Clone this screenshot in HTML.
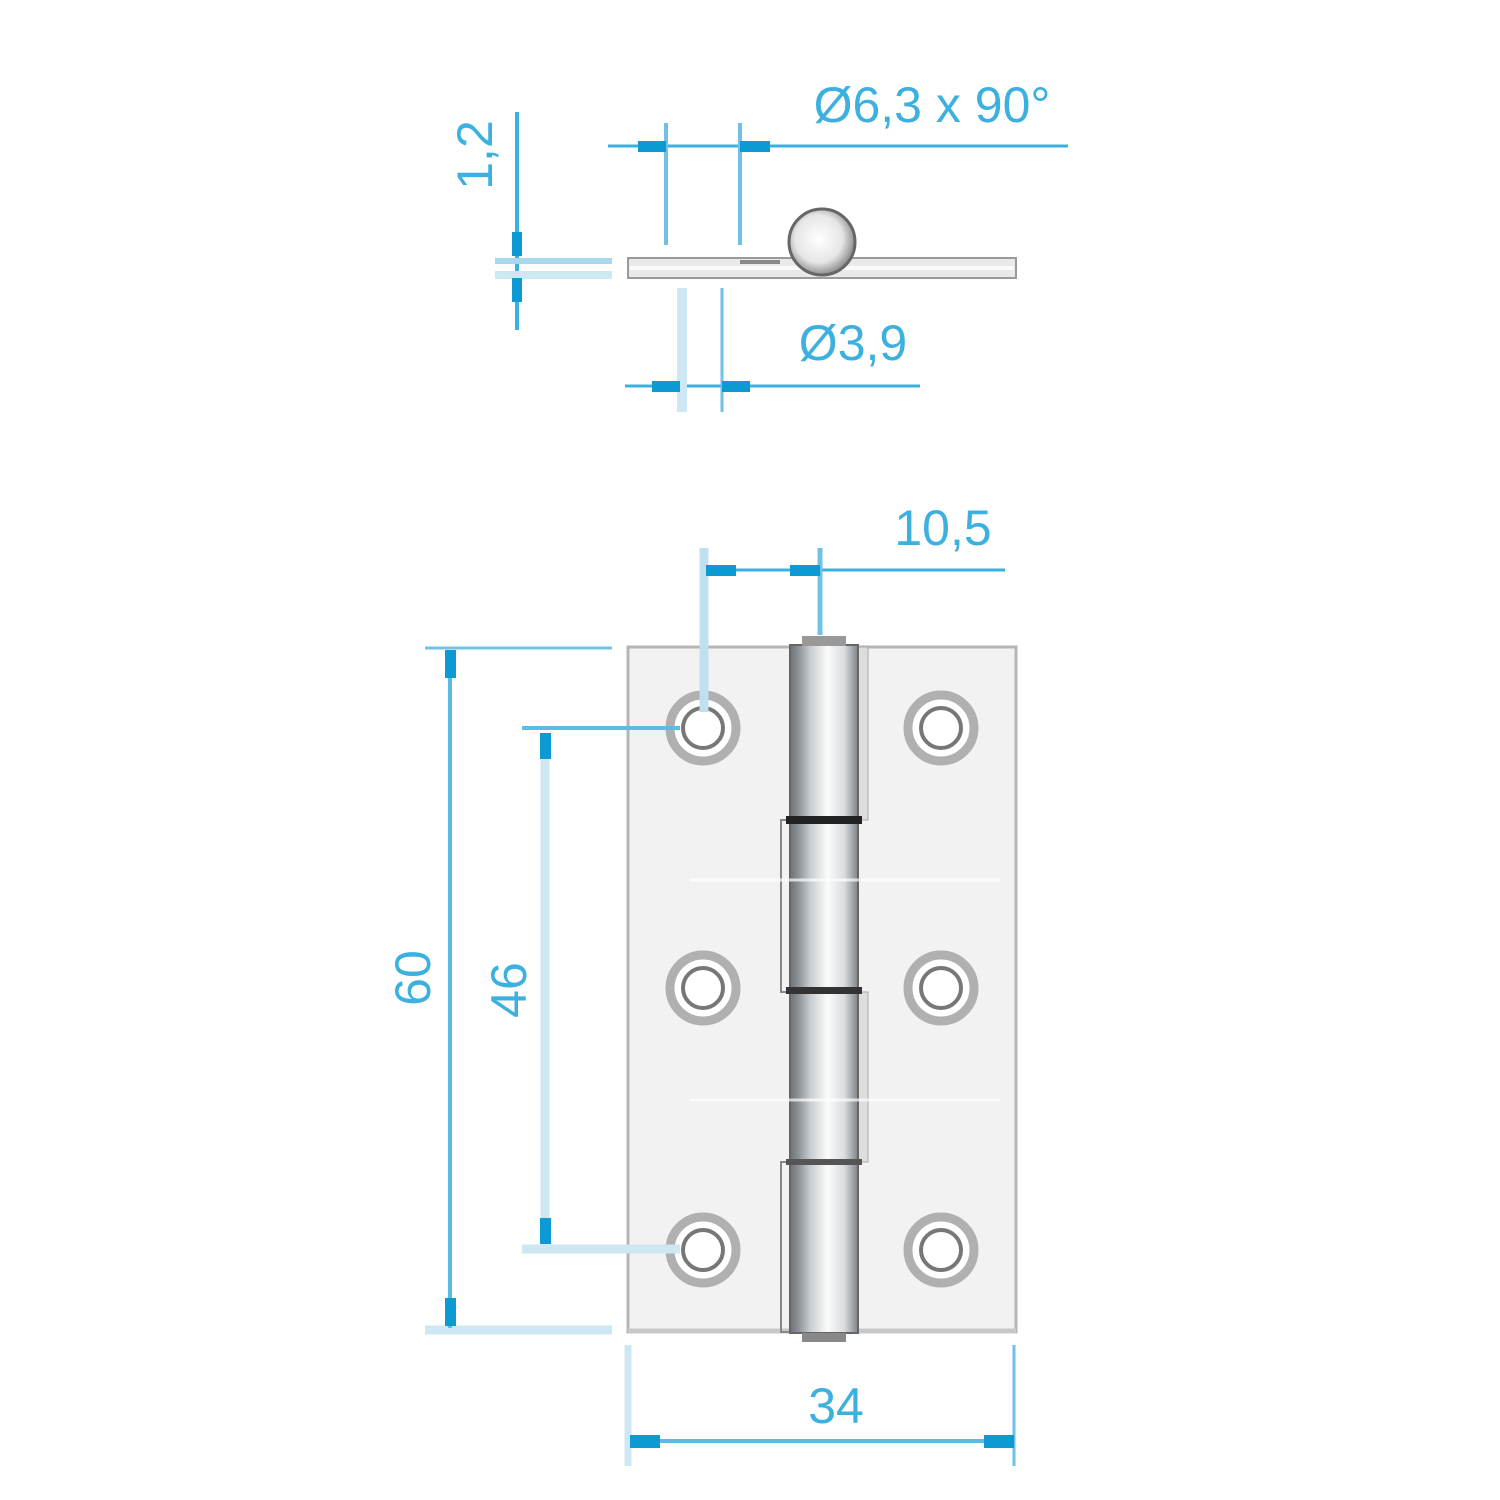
<!DOCTYPE html>
<html><head><meta charset="utf-8"><style>
html,body{margin:0;padding:0;background:#fff;width:1500px;height:1500px;overflow:hidden}
svg{display:block}
text{font-family:"Liberation Sans",sans-serif;fill:#3cb0de;font-size:50px}
</style></head><body>
<svg width="1500" height="1500" viewBox="0 0 1500 1500">
<defs>
<linearGradient id="kn" x1="0" x2="1" y1="0" y2="0">
<stop offset="0" stop-color="#6c7278"/><stop offset="0.12" stop-color="#8a9096"/><stop offset="0.3" stop-color="#c9cdd0"/><stop offset="0.55" stop-color="#fbfbfb"/><stop offset="0.8" stop-color="#dadcde"/><stop offset="1" stop-color="#7d8388"/>
</linearGradient>
<radialGradient id="ball" cx="0.45" cy="0.45" r="0.6">
<stop offset="0" stop-color="#fff"/><stop offset="0.6" stop-color="#e6e6e6"/><stop offset="1" stop-color="#777"/>
</radialGradient>
</defs>

<!-- TOP VIEW -->
<g>
<rect x="628" y="258" width="388" height="20" fill="#e9e9e9" stroke="#9a9a9a" stroke-width="2"/>
<line x1="630" y1="268" x2="1014" y2="268" stroke="#fafafa" stroke-width="4"/>
<circle cx="822" cy="242" r="33" fill="url(#ball)" stroke="#666" stroke-width="3"/>
<rect x="740" y="260" width="40" height="4" fill="#888"/>
</g>
<!-- 1,2 -->
<g stroke="#3cb0de">
<line x1="517" y1="112" x2="517" y2="330" stroke-width="4"/>
<line x1="495" y1="261" x2="612" y2="261" stroke="#a9d8ec" stroke-width="6"/>
<line x1="495" y1="275" x2="612" y2="275" stroke="#cde7f3" stroke-width="8"/>
<rect x="512" y="232" width="10" height="24" fill="#0d9ad3" stroke="none"/>
<rect x="512" y="278" width="10" height="24" fill="#0d9ad3" stroke="none"/>
</g>
<text transform="translate(492,155) rotate(-90)" text-anchor="middle">1,2</text>
<!-- Ø6,3 -->
<g stroke="#3cb0de">
<line x1="608" y1="146" x2="1068" y2="146" stroke-width="3"/>
<line x1="666" y1="123" x2="666" y2="245" stroke="#6fc2e4" stroke-width="4"/>
<line x1="740" y1="123" x2="740" y2="245" stroke="#6fc2e4" stroke-width="4"/>
<rect x="638" y="141" width="28" height="11" fill="#0d9ad3" stroke="none"/>
<rect x="740" y="141" width="30" height="11" fill="#0d9ad3" stroke="none"/>
</g>
<text x="932" y="122" text-anchor="middle">Ø6,3 x 90°</text>
<!-- Ø3,9 -->
<g stroke="#3cb0de">
<line x1="625" y1="386" x2="920" y2="386" stroke-width="3"/>
<line x1="682" y1="288" x2="682" y2="412" stroke="#cde7f3" stroke-width="10"/>
<line x1="722" y1="288" x2="722" y2="412" stroke="#6fc2e4" stroke-width="3"/>
<rect x="652" y="381" width="28" height="11" fill="#0d9ad3" stroke="none"/>
<rect x="722" y="381" width="28" height="11" fill="#0d9ad3" stroke="none"/>
</g>
<text x="853" y="360" text-anchor="middle">Ø3,9</text>

<!-- FRONT VIEW -->
<rect x="628" y="647" width="388" height="685" fill="#f2f2f2" stroke="#b5b5b5" stroke-width="3"/>
<line x1="628" y1="1331" x2="1016" y2="1331" stroke="#c8c8c8" stroke-width="5"/>
<!-- leaf outlines around knuckle segments -->
<rect x="781" y="820" width="10" height="172" fill="none" stroke="#888" stroke-width="2"/>
<rect x="858" y="647" width="10" height="173" fill="#ddd" stroke="#aaa" stroke-width="1"/>
<rect x="858" y="992" width="10" height="170" fill="#ddd" stroke="#aaa" stroke-width="1"/>
<rect x="781" y="1162" width="10" height="170" fill="none" stroke="#888" stroke-width="2"/>
<!-- knuckle -->
<rect x="790" y="645" width="68" height="688" fill="url(#kn)" stroke="#666" stroke-width="2"/>
<rect x="802" y="636" width="44" height="10" fill="#999"/>
<rect x="802" y="1333" width="44" height="9" fill="#888"/>
<rect x="786" y="816" width="76" height="8" fill="#222"/>
<rect x="786" y="987" width="76" height="7" fill="#333"/>
<rect x="786" y="1159" width="76" height="6" fill="#555"/>
<line x1="690" y1="880" x2="1000" y2="880" stroke="#fff" stroke-width="3" opacity="0.7"/>
<line x1="690" y1="1100" x2="1000" y2="1100" stroke="#fff" stroke-width="3" opacity="0.7"/>
<!-- holes -->
<g fill="#fff" stroke="#9a9a9a">
<circle cx="703" cy="728" r="33" stroke-width="9" stroke="#b0b0b0"/><circle cx="703" cy="728" r="20" stroke-width="4" stroke="#777"/>
<circle cx="941" cy="728" r="33" stroke-width="9" stroke="#b0b0b0"/><circle cx="941" cy="728" r="20" stroke-width="4" stroke="#777"/>
<circle cx="703" cy="988" r="33" stroke-width="9" stroke="#b0b0b0"/><circle cx="703" cy="988" r="20" stroke-width="4" stroke="#777"/>
<circle cx="941" cy="988" r="33" stroke-width="9" stroke="#b0b0b0"/><circle cx="941" cy="988" r="20" stroke-width="4" stroke="#777"/>
<circle cx="703" cy="1250" r="33" stroke-width="9" stroke="#b0b0b0"/><circle cx="703" cy="1250" r="20" stroke-width="4" stroke="#777"/>
<circle cx="941" cy="1250" r="33" stroke-width="9" stroke="#b0b0b0"/><circle cx="941" cy="1250" r="20" stroke-width="4" stroke="#777"/>
</g>

<!-- 10,5 -->
<g>
<line x1="705" y1="570" x2="1005" y2="570" stroke="#3cb0de" stroke-width="3"/>
<line x1="704" y1="548" x2="704" y2="712" stroke="#bfe0ef" stroke-width="9"/>
<line x1="820" y1="548" x2="820" y2="635" stroke="#6fc2e4" stroke-width="5"/>
<rect x="706" y="565" width="30" height="11" fill="#0d9ad3"/>
<rect x="790" y="565" width="30" height="11" fill="#0d9ad3"/>
</g>
<text x="943" y="545" text-anchor="middle">10,5</text>
<!-- 60 -->
<g>
<line x1="425" y1="648" x2="612" y2="648" stroke="#6fc2e4" stroke-width="3"/>
<line x1="425" y1="1330" x2="612" y2="1330" stroke="#cde7f3" stroke-width="9"/>
<line x1="450" y1="650" x2="450" y2="1328" stroke="#5cbbe2" stroke-width="4"/>
<rect x="445" y="650" width="11" height="28" fill="#0d9ad3"/>
<rect x="445" y="1298" width="11" height="28" fill="#0d9ad3"/>
</g>
<text transform="translate(430,978) rotate(-90)" text-anchor="middle">60</text>
<!-- 46 -->
<g>
<line x1="522" y1="728" x2="680" y2="728" stroke="#5cbbe2" stroke-width="4"/>
<line x1="522" y1="1249" x2="680" y2="1249" stroke="#cde7f3" stroke-width="9"/>
<line x1="545" y1="735" x2="545" y2="1245" stroke="#cde7f3" stroke-width="9"/>
<rect x="540" y="733" width="11" height="26" fill="#0d9ad3"/>
<rect x="540" y="1218" width="11" height="26" fill="#0d9ad3"/>
</g>
<text transform="translate(526,990) rotate(-90)" text-anchor="middle">46</text>
<!-- 34 -->
<g>
<line x1="628" y1="1345" x2="628" y2="1466" stroke="#cde7f3" stroke-width="7"/>
<line x1="1014" y1="1345" x2="1014" y2="1466" stroke="#6fc2e4" stroke-width="3"/>
<line x1="630" y1="1441" x2="1014" y2="1441" stroke="#5cbbe2" stroke-width="4"/>
<rect x="630" y="1435" width="30" height="13" fill="#0d9ad3"/>
<rect x="984" y="1435" width="30" height="13" fill="#0d9ad3"/>
</g>
<text x="836" y="1423" text-anchor="middle">34</text>
</svg>
</body></html>
